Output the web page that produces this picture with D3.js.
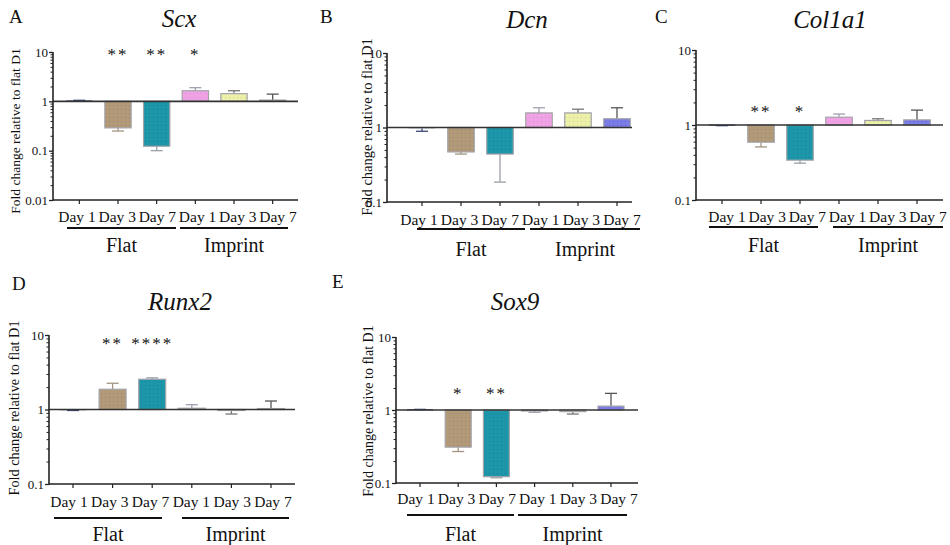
<!DOCTYPE html>
<html>
<head>
<meta charset="utf-8">
<script src="https://cdn.jsdelivr.net/npm/d3@7"></script>
<style>
  html, body { margin:0; padding:0; background:#fff; }
  svg text { font-family: "Liberation Serif", "Times New Roman", serif; fill:#111; }
</style>
</head>
<body>
<svg id="chart" width="950" height="545"></svg>
<script>
// ---------- DATA ----------
const days = ["Day 1", "Day 3", "Day 7", "Day 1", "Day 3", "Day 7"];
const groups = ["Flat", "Imprint"];
const yLabel = "Fold change relative to flat D1";

const scxMean = [1.02, 0.29, 0.123, 1.64, 1.43, 1.06];
const scxErr  = [1.05, 0.25, 0.10, 1.89, 1.64, 1.40];
const scxSig  = ["", "**", "**", "*", "", ""];

const dcnMean = [0.97, 0.47, 0.44, 1.57, 1.57, 1.31];
const dcnErr  = [0.89, 0.44, 0.185, 1.84, 1.76, 1.84];
const dcnSig  = ["", "", "", "", "", ""];

const colMean = [0.99, 0.59, 0.34, 1.27, 1.15, 1.17];
const colErr  = [0.98, 0.51, 0.31, 1.40, 1.21, 1.58];
const colSig  = ["", "**", "*", "", "", ""];

const runxMean = [0.98, 1.87, 2.55, 1.04, 0.99, 1.03];
const runxErr  = [0.97, 2.25, 2.66, 1.16, 0.87, 1.30];
const runxSig  = ["", "**", "****", "", "", ""];

const soxMean = [1.01, 0.31, 0.122, 0.98, 0.95, 1.13];
const soxErr  = [1.02, 0.27, 0.118, 0.93, 0.88, 1.69];
const soxSig  = ["", "*", "**", "", "", ""];

// ---------- STYLE ----------
const barFill   = ["#3b4677", "#b39a77", "#1c97a9", "#f0a2e4", "#ecf0a9", "#7b7ce6"];
const dotFill   = ["#3b4677", "#8d7a93", "#2a6f98", "#c98fd8", "#c4c98f", "#5b5cc8"];
const errColor  = ["#3b4677", "#a29580", "#9aa0a6", "#a0a0b0", "#777", "#555"];

const panels = [
  { letter:"A", gene:"Scx",    mean:scxMean,  err:scxErr,  sig:scxSig,  dom:[0.01,10],
    ax:53,  axEnd:298, yT:52,  yB:200, bL:60,    bR:292,   titleX:179, titleY:27, letX:9,   letY:23,
    labY:222, labF:77, labL:278, lineY:228, lines:[[67,176],[180,288]], grpY:252, sigY:60, ylX:15, ylY:131, ylSize:13.5 },
  { letter:"B", gene:"Dcn",    mean:dcnMean,  err:dcnErr,  sig:dcnSig,  dom:[0.1,10],
    ax:387, axEnd:632, yT:53,  yB:202, bL:402.5, bR:636.5, titleX:527, titleY:28, letX:320, letY:23,
    labY:225, labF:419, labL:622, lineY:229, lines:[[417,525],[530,640]], grpY:256, sigY:60, ylX:367, ylY:127, ylSize:14.5 },
  { letter:"C", gene:"Col1a1", mean:colMean,  err:colErr,  sig:colSig,  dom:[0.1,10],
    ax:696, axEnd:943, yT:50,  yB:200, bL:702.5, bR:936.5, titleX:830, titleY:28, letX:655, letY:23,
    labY:222, labF:727, labL:928, lineY:227, lines:[[709,818],[833,943]], grpY:252, sigY:117, ylX:null },
  { letter:"D", gene:"Runx2",  mean:runxMean, err:runxErr, sig:runxSig, dom:[0.1,10],
    ax:49,  axEnd:295, yT:335, yB:484, bL:53.2,  bR:290.8, titleX:180, titleY:310, letX:12, letY:290,
    labY:507, labF:69, labL:273, lineY:518, lines:[[54,162],[182,289]], grpY:541, sigY:349, ylX:14, ylY:408, ylSize:14.3 },
  { letter:"E", gene:"Sox9",   mean:soxMean,  err:soxErr,  sig:soxSig,  dom:[0.1,10],
    ax:396, axEnd:638, yT:337, yB:483, bL:400.9, bR:630.1, titleX:515, titleY:310, letX:332, letY:288,
    labY:504, labF:416, labL:619, lineY:515, lines:[[407,514],[518,627]], grpY:541, sigY:399, ylX:368, ylY:411, ylSize:14 }
];

const svg = d3.select("#chart");
const defs = svg.append("defs");
barFill.forEach((c, i) => {
  const p = defs.append("pattern").attr("id", "pat" + i)
    .attr("patternUnits", "userSpaceOnUse").attr("width", 4).attr("height", 4);
  p.append("rect").attr("width", 4).attr("height", 4).attr("fill", c);
  p.append("rect").attr("x", 1).attr("y", 1).attr("width", 1).attr("height", 1)
    .attr("fill", dotFill[i]).attr("opacity", 0.8);
});

panels.forEach(P => {
  const g = svg.append("g");
  const y = d3.scaleLog().domain(P.dom).range([P.yB, P.yT]);
  const x = d3.scaleBand().domain(d3.range(days.length)).range([P.bL, P.bR]).paddingInner(0.32).paddingOuter(0.16);
  const cx = i => x(i) + x.bandwidth() / 2;
  const bw = x.bandwidth();
  const xl = d3.scalePoint().domain(d3.range(days.length)).range([P.labF, P.labL]);

  g.append("text").attr("x", P.letX).attr("y", P.letY).attr("font-size", 19).text(P.letter);
  g.append("text").attr("x", P.titleX).attr("y", P.titleY).attr("text-anchor", "middle")
    .attr("font-size", 25).attr("font-style", "italic").text(P.gene);

  if (P.ylX !== null) {
    g.append("text").attr("transform", `translate(${P.ylX},${P.ylY}) rotate(-90)`)
      .attr("text-anchor", "middle").attr("dominant-baseline", "central")
      .attr("font-size", P.ylSize).attr("fill", "#222").text(yLabel);
  }

  const one = y(1);
  P.mean.forEach((v, i) => {
    const top = Math.min(y(v), one), h = Math.abs(y(v) - one);
    const ey = y(P.err[i]), by = y(v);
    g.append("line").attr("x1", cx(i)).attr("x2", cx(i)).attr("y1", by).attr("y2", ey)
      .attr("stroke", errColor[i]).attr("stroke-width", 1.3);
    g.append("line").attr("x1", cx(i) - 6).attr("x2", cx(i) + 6).attr("y1", ey).attr("y2", ey)
      .attr("stroke", errColor[i]).attr("stroke-width", 1.3);
    if (i === 0) {
      g.append("rect").attr("x", cx(i) - bw / 2).attr("y", top - 0.5).attr("width", bw).attr("height", Math.max(h, 1.2))
        .attr("fill", barFill[0]);
    } else {
      g.append("rect").attr("x", cx(i) - bw / 2).attr("y", top).attr("width", bw).attr("height", Math.max(h, 1))
        .attr("fill", `url(#pat${i})`).attr("stroke", "#a3a3a8").attr("stroke-width", 1.2);
    }
    if (P.sig[i]) {
      g.append("text").attr("x", cx(i)).attr("y", P.sigY).attr("text-anchor", "middle")
        .attr("font-size", 17).attr("letter-spacing", 2).attr("fill", "#333").text(P.sig[i]);
    }
  });

  g.append("line").attr("x1", P.ax).attr("x2", P.axEnd).attr("y1", one).attr("y2", one)
    .attr("stroke", "#333").attr("stroke-width", 1.6);

  const decs = d3.range(Math.round(Math.log10(P.dom[0])), Math.round(Math.log10(P.dom[1])) + 1).map(e => Math.pow(10, e));
  const minors = [];
  decs.slice(0, -1).forEach(d => { for (let k = 2; k <= 9; k++) minors.push(d * k); });
  const axMinor = d3.axisLeft(y).tickValues(minors).tickSize(2.5).tickFormat("");
  const ga2 = g.append("g").attr("transform", `translate(${P.ax},0)`).call(axMinor);
  ga2.select(".domain").remove();
  ga2.selectAll("line").attr("stroke", "#222").attr("stroke-width", 1);
  const axMajor = d3.axisLeft(y).tickValues(decs).tickSize(4).tickPadding(1)
    .tickFormat(d => d >= 1 ? String(d) : String(+d.toPrecision(1)));
  const ga = g.append("g").attr("transform", `translate(${P.ax},0)`).call(axMajor)
    .attr("font-family", null).attr("font-size", null);
  ga.select(".domain").remove();
  ga.selectAll("line").attr("stroke", "#222").attr("stroke-width", 1.3);
  ga.selectAll("text").style("font-family", "'Liberation Serif', serif").style("font-size", "13px").attr("fill", "#222");
  g.append("line").attr("x1", P.ax).attr("x2", P.ax).attr("y1", P.yT).attr("y2", P.yB + 0.8)
    .attr("stroke", "#222").attr("stroke-width", 1.6);

  g.append("line").attr("x1", P.ax).attr("x2", P.axEnd).attr("y1", P.yB).attr("y2", P.yB)
    .attr("stroke", "#222").attr("stroke-width", 1.6);
  days.forEach((d, i) => {
    g.append("line").attr("x1", cx(i)).attr("x2", cx(i)).attr("y1", P.yB).attr("y2", P.yB + 4)
      .attr("stroke", "#222").attr("stroke-width", 1.2);
    g.append("text").attr("x", xl(i)).attr("y", P.labY).attr("text-anchor", "middle")
      .attr("font-size", 15.5).text(d);
  });

  groups.forEach((gr, k) => {
    const [x1, x2] = P.lines[k];
    g.append("line").attr("x1", x1).attr("x2", x2).attr("y1", P.lineY).attr("y2", P.lineY)
      .attr("stroke", "#111").attr("stroke-width", 2);
    g.append("text").attr("x", (x1 + x2) / 2).attr("y", P.grpY).attr("text-anchor", "middle")
      .attr("font-size", 20).text(gr);
  });
});
</script>
</body>
</html>
